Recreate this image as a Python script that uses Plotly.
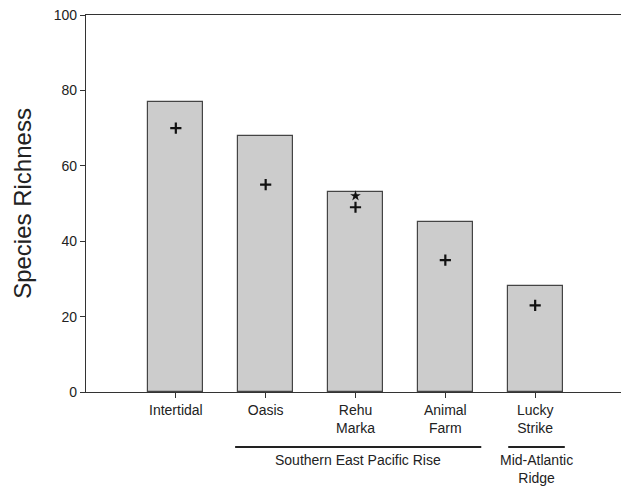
import plotly.graph_objects as go

sites = ["Intertidal", "Oasis", "Rehu<br>Marka", "Animal<br>Farm", "Lucky<br>Strike"]
richness = [77, 68, 53, 45, 28]
plus_values = [70, 55, 49, 35, 23]
star_sites = ["Rehu<br>Marka"]
star_values = [52]
groups = [("Southern East Pacific Rise", 1, 3), ("Mid-Atlantic<br>Ridge", 4, 4)]
y_ticks = [0, 20, 40, 60, 80, 100]

x_idx = list(range(len(sites)))
FONT = "Arial, Liberation Sans, sans-serif"
TXT = "#222222"

fig = go.Figure()
fig.add_trace(go.Bar(
    x=x_idx, y=richness, width=0.61,
    marker=dict(color="#cccccc", line=dict(color="#444444", width=1.2)),
    showlegend=False, hoverinfo="skip"))
fig.add_trace(go.Scatter(
    x=x_idx, y=plus_values, mode="markers",
    marker=dict(symbol="cross-thin", size=8, line=dict(color="#111111", width=2.2)),
    showlegend=False))
fig.add_trace(go.Scatter(
    x=[sites.index(s) for s in star_sites], y=star_values, mode="markers",
    marker=dict(symbol="star", size=8, color="#111111"),
    showlegend=False))

shapes = []
annotations = []
for name, a, b in groups:
    lo = a - 0.34 if a != b else a - 0.30
    hi = b + 0.40 if a != b else b + 0.33
    shapes.append(dict(type="line", xref="x", yref="paper", x0=lo, x1=hi,
                       y0=-0.146, y1=-0.146, line=dict(color="#222222", width=2)))
    annotations.append(dict(text=name, xref="x", yref="paper", x=(lo + hi) / 2,
                            y=-0.155, yanchor="top", showarrow=False,
                            font=dict(family=FONT, size=14, color=TXT)))

# page has an 8px body margin, so the figure is sized/offset to compensate
fig.update_layout(
    width=621, height=480,
    margin=dict(l=78, r=4, t=7, b=96),
    plot_bgcolor="white", paper_bgcolor="white",
    font=dict(family=FONT, size=14, color=TXT),
    bargap=0,
    shapes=shapes, annotations=annotations,
    xaxis=dict(range=[-1, 5], tickvals=x_idx + [5], ticktext=sites + [""],
               automargin=False, ticklabeloverflow="allow",
               showgrid=False, zeroline=False, showline=True, linecolor="#333333",
               linewidth=1.2, mirror=True, ticks="outside", ticklen=5,
               tickcolor="#333333", tickfont=dict(size=14, color=TXT)),
    yaxis=dict(range=[0, 100], tickvals=y_ticks, showgrid=False, zeroline=False,
               automargin=False, ticklabeloverflow="allow",
               showline=True, linecolor="#333333", linewidth=1.2, mirror=True,
               ticks="outside", ticklen=5, tickcolor="#333333",
               tickfont=dict(size=14, color=TXT),
               title=dict(text="Species Richness", font=dict(size=24, color=TXT),
                          standoff=15)),
)

fig.write_html("out.html")
